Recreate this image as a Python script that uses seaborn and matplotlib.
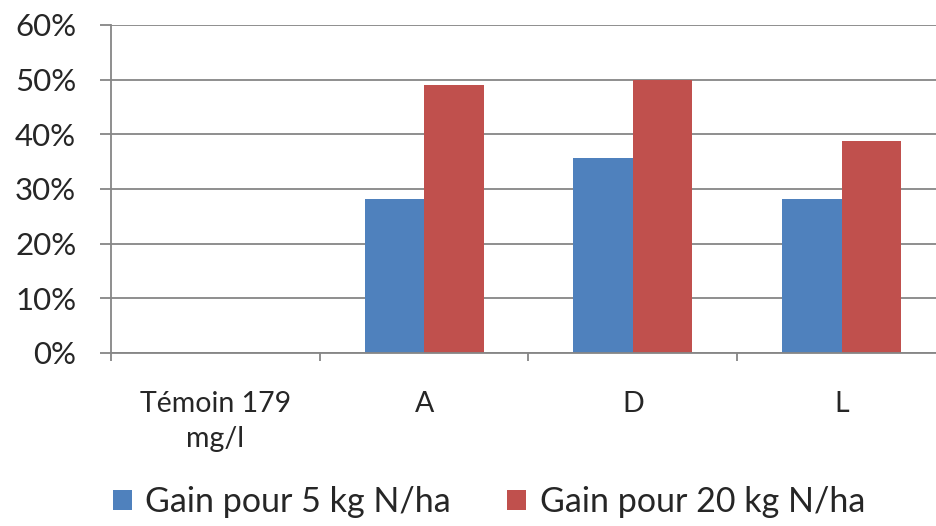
import matplotlib
matplotlib.use("Agg")
import matplotlib.pyplot as plt
from matplotlib.ticker import FixedLocator, PercentFormatter
from matplotlib.patches import Patch
import seaborn as sns
import pandas as pd

# Data
categories = ["Témoin 179\nmg/l", "A", "D", "L"]
series_names = ["Gain pour 5 kg N/ha", "Gain pour 20 kg N/ha"]
gain_5kg = [0.0, 0.282, 0.357, 0.282]
gain_20kg = [0.0, 0.490, 0.500, 0.388]
colors = ["#4F81BD", "#C0504D"]

df = pd.DataFrame({
    "cat": categories * 2,
    "serie": [series_names[0]] * 4 + [series_names[1]] * 4,
    "val": gain_5kg + gain_20kg,
})

sns.set_theme(style="white")
plt.rcParams["font.family"] = ["Lato", "DejaVu Sans"]

fig = plt.figure(figsize=(9.37, 5.26), dpi=100)
ax = fig.add_axes([111 / 937, 1 - 353 / 526, (946 - 111) / 937, (353 - 25) / 526])

sns.barplot(data=df, x="cat", y="val", hue="serie", order=categories,
            hue_order=series_names, palette=colors, width=0.57,
            saturation=1, errorbar=None, legend=False, ax=ax,
            linewidth=0)

grey = "#868686"
ax.set_ylim(0, 0.6)
ax.set_xlim(-0.5, 3.5)
ax.yaxis.set_major_locator(FixedLocator([0, .1, .2, .3, .4, .5, .6]))
ax.yaxis.set_major_formatter(PercentFormatter(1.0, decimals=0))
ax.grid(axis="y", color=grey, linewidth=1.3)
ax.set_axisbelow(True)

# Category boundaries as major ticks, labels on minor ticks at the centres
ax.xaxis.set_major_locator(FixedLocator([-0.5, 0.5, 1.5, 2.5, 3.5]))
ax.xaxis.set_major_formatter(plt.NullFormatter())
ax.xaxis.set_minor_locator(FixedLocator([0, 1, 2, 3]))
ax.set_xticklabels(categories, minor=True, fontsize=20.5, va="top",
                   linespacing=1.45)
ax.tick_params(axis="x", which="major", direction="out", length=6,
               width=1.3, color=grey, bottom=True)
ax.tick_params(axis="x", which="minor", length=0, pad=27, bottom=True)
ax.tick_params(axis="y", direction="out", length=8, width=1.3, color=grey,
               labelsize=22.5, pad=17, left=True)

for side in ["top", "right"]:
    ax.spines[side].set_visible(False)
for side in ["left", "bottom"]:
    ax.spines[side].set_color(grey)
    ax.spines[side].set_linewidth(1.3)

ax.set_xlabel("")
ax.set_ylabel("")

handles = [Patch(facecolor=c, edgecolor="none") for c in colors]
fig.legend(handles, series_names, loc="center left",
           bbox_to_anchor=(113 / 937, 1 - 502 / 526), ncol=2, frameon=False,
           fontsize=24.5, handlelength=0.55, handleheight=0.55,
           handletextpad=0.4, columnspacing=1.65, borderaxespad=0,
           borderpad=0)

fig.savefig("out.png", dpi=100)
